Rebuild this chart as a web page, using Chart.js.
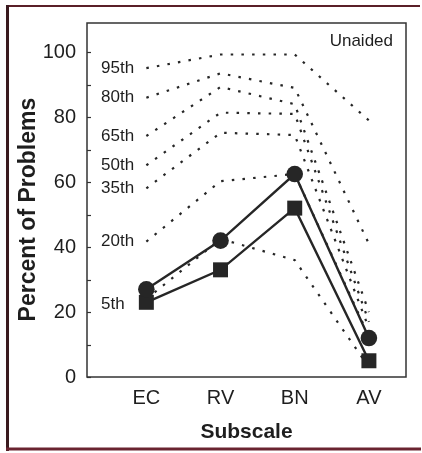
<!DOCTYPE html>
<html><head><meta charset="utf-8">
<script src="https://cdn.jsdelivr.net/npm/chart.js@4.4.0/dist/chart.umd.min.js"></script>
<style>html,body{margin:0;padding:0;background:#fff}#wrap{width:422px;height:453px;position:relative}canvas{display:block}</style>
</head><body><div id="wrap"><canvas id="c" width="422" height="453"></canvas></div>
<script>
// ---- data ----
const categories = ['EC', 'RV', 'BN', 'AV'];
const yTicks = [0, 20, 40, 60, 80, 100];
const minorTicks = [0, 10, 20, 30, 40, 50, 60, 70, 80, 90, 100];
const circleSeries = [27, 42, 62.5, 12];
const squareSeries = [23, 33, 52, 5];
const percentileNames = ['5th', '20th', '35th', '50th', '65th', '80th', '95th'];
const p5  = [24, 42.5, 36, 3];
const p20 = [41.7, 60.3, 62.5, 12.5];
const p35 = [58.1, 75.2, 74.5, 15];
const p50 = [65.2, 81.4, 81, 17];
const p65 = [74.2, 89.3, 84, 20];
const p80 = [86, 93.5, 89, 41];
const p95 = [95.1, 99.3, 99.3, 79];
const percentileLabelAt = [22.5, 41.7, 58.1, 65.2, 74.2, 86, 95.1];
const panelLabel = 'Unaided';
const xTitle = 'Subscale';
const yTitle = 'Percent of Problems';

// ---- styling ----
const FONT = "'Liberation Sans', Arial, Helvetica, sans-serif";
const INK = '#262626';
Chart.defaults.font.family = FONT;
Chart.defaults.color = '#1e1e1e';

const pts = arr => arr.map((v, i) => ({ x: i + 1, y: v }));
const dotted = arr => ({
  data: pts(arr), borderColor: INK, borderWidth: 2.2, borderDash: [2.5, 8.2],
  borderCapStyle: 'butt', pointRadius: 0, fill: false, tension: 0, order: 2
});
const pctSets = [p5, p20, p35, p50, p65, p80, p95].map(dotted);

const decor = {
  id: 'decor',
  beforeDraw(chart) {
    const c = chart.ctx;
    c.save();
    c.fillStyle = '#fff';
    c.fillRect(0, 0, chart.width, chart.height);
    // outer scan frame
    c.strokeStyle = '#5a1f28';
    c.lineWidth = 2;
    c.beginPath(); c.moveTo(7, 6); c.lineTo(420, 6); c.stroke();
    c.lineWidth = 3;
    c.strokeStyle = '#3a1a1e';
    c.beginPath(); c.moveTo(7.5, 5); c.lineTo(7.5, 451); c.stroke();
    c.strokeStyle = '#6a2430';
    c.beginPath(); c.moveTo(6, 449); c.lineTo(421, 449); c.stroke();
    c.restore();
  },
  afterDraw(chart) {
    const c = chart.ctx, a = chart.chartArea;
    const ys = chart.scales.y;
    c.save();
    c.strokeStyle = '#333';
    c.lineWidth = 1.5;
    c.strokeRect(a.left, a.top, a.right - a.left, a.bottom - a.top);
    // inward ticks
    c.lineWidth = 1.2;
    minorTicks.forEach(v => {
      const y = Math.round(ys.getPixelForValue(v)) + 0.5;
      c.beginPath(); c.moveTo(a.left, y); c.lineTo(a.left + 4, y); c.stroke();
    });
    // percentile labels
    c.fillStyle = '#1e1e1e';
    c.font = '17px ' + FONT;
    c.textAlign = 'left';
    c.textBaseline = 'middle';
    percentileNames.forEach((n, i) => {
      c.fillText(n, a.left + 14, ys.getPixelForValue(percentileLabelAt[i]));
    });
    c.textAlign = 'right';
    c.fillText(panelLabel, a.right - 13, a.top + 18);
    c.restore();
  }
};

new Chart(document.getElementById('c'), {
  type: 'line',
  data: {
    datasets: [
      ...pctSets,
      { data: pts(circleSeries), borderColor: INK, borderWidth: 2.4, pointStyle: 'circle',
        pointRadius: 8.3, pointBackgroundColor: INK, pointBorderColor: INK, pointBorderWidth: 0, tension: 0, order: 1 },
      { data: pts(squareSeries), borderColor: INK, borderWidth: 2.4, pointStyle: 'rect',
        pointRadius: 10.6, pointBackgroundColor: INK, pointBorderColor: INK, pointBorderWidth: 0, tension: 0, order: 1 }
    ]
  },
  options: {
    responsive: false, animation: false, devicePixelRatio: 1,
    layout: { padding: { left: 15, top: 22, right: 16, bottom: 8 } },
    plugins: { legend: { display: false }, tooltip: { enabled: false } },
    scales: {
      x: {
        type: 'linear', min: 0.2, max: 4.5,
        afterBuildTicks: s => { s.ticks = categories.map((c, i) => ({ value: i + 1 })); },
        afterFit: s => { s.height = 68; },
        ticks: { callback: v => categories[v - 1], font: { size: 20 }, padding: 9, autoSkip: false, maxRotation: 0 },
        grid: { display: false, drawTicks: false }, border: { display: false },
        title: { display: true, text: xTitle, font: { size: 21, weight: 'bold' }, padding: 0, color: '#1e1e1e' }
      },
      y: {
        min: 0, max: 109,
        afterBuildTicks: s => { s.ticks = yTicks.map(v => ({ value: v })); },
        afterFit: s => { s.width = 72; },
        ticks: { font: { size: 20 }, padding: 11 },
        grid: { display: false, drawTicks: false }, border: { display: false },
        title: { display: true, text: yTitle + '   ', font: { size: 23, weight: 'bold' }, padding: 0, color: '#1e1e1e' }
      }
    }
  },
  plugins: [decor]
});
</script></body></html>
